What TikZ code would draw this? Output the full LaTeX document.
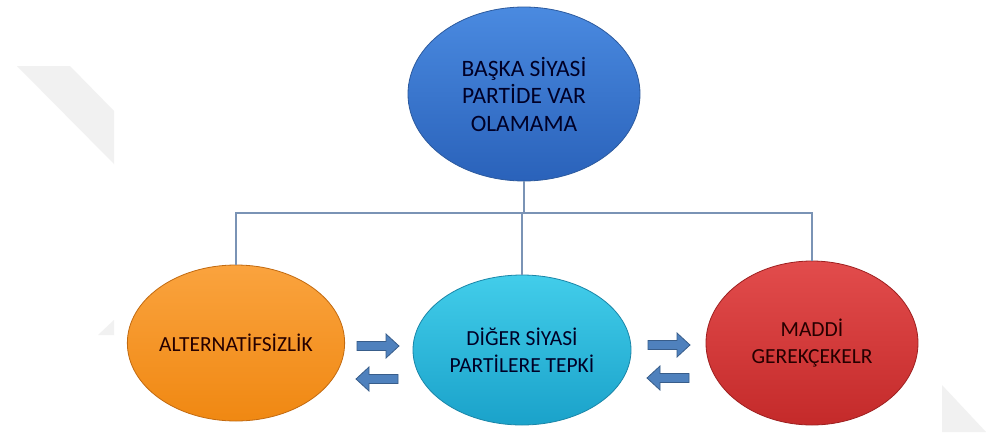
\documentclass[tikz,border=0pt]{standalone}
\usepackage{fontspec}
\setmainfont{Carlito}
\usetikzlibrary{shapes.geometric}

\definecolor{bluetop}{HTML}{4A8AE0}
\definecolor{bluebot}{HTML}{2A62BA}
\definecolor{blueedge}{HTML}{2C5A9E}
\definecolor{orgtop}{HTML}{FAA33E}
\definecolor{orgbot}{HTML}{F08812}
\definecolor{orgedge}{HTML}{C26A10}
\definecolor{cyantop}{HTML}{42CDEA}
\definecolor{cyanbot}{HTML}{1AA2CA}
\definecolor{cyanedge}{HTML}{1A86A8}
\definecolor{redtop}{HTML}{E24C4C}
\definecolor{redbot}{HTML}{C42A2A}
\definecolor{rededge}{HTML}{9E2020}
\definecolor{linkcol}{HTML}{7A93B5}
\definecolor{arrfill}{HTML}{4F81BD}
\definecolor{arredge}{HTML}{385D8A}
\definecolor{wmark}{HTML}{F1F1F1}

\tikzset{
  bubble/.style={ellipse, inner sep=0pt, line width=0.8pt, align=center,
    font=\fontsize{21.5}{27}\selectfont},
  link/.style={draw=linkcol, line width=1.2pt},
  blockarrow/.style={fill=arrfill, draw=arredge, line width=0.8pt, line join=miter}
}

\newcommand{\blockarr}[3]{%
  \draw[blockarrow, shift={(#1,#2)}, xscale=#3]
    (-21,-4.5) -- (8,-4.5) -- (8,-12) -- (21,0) -- (8,12) -- (8,4.5) -- (-21,4.5) -- cycle;}

\begin{document}
\begin{tikzpicture}[x=1pt,y=-1pt]
\useasboundingbox (0,0) rectangle (986,440);
\fill[white] (0,0) rectangle (986,440);
% faint marks in the background
\fill[wmark] (17,66) -- (70,66) -- (114,111) -- (114,164) -- cycle;
\fill[wmark] (98,335) -- (114,320) -- (114,335) -- cycle;
\fill[wmark] (942,385) -- (986,432) -- (942,432) -- cycle;

\node[bubble, minimum width=232pt, minimum height=174pt, draw=blueedge,
  top color=bluetop, bottom color=bluebot, text=black!85!blue,
  font=\fontsize{23.5}{27.5}\selectfont] (top) at (524,94)
  {BAŞKA SİYASİ\\PARTİDE VAR\\OLAMAMA};

\node[bubble, minimum width=216pt, minimum height=156pt, draw=orgedge,
  top color=orgtop, bottom color=orgbot, text=black!85!red] (alt) at (236,343)
  {ALTERNATİFSİZLİK};
\node[bubble, minimum width=218pt, minimum height=150pt, draw=cyanedge,
  top color=cyantop, bottom color=cyanbot, text=black!85!blue] (dig) at (522,350)
  {DİĞER SİYASİ\\PARTİLERE TEPKİ};
\node[bubble, minimum width=212pt, minimum height=164pt, draw=rededge,
  top color=redtop, bottom color=redbot, text=black!85!red] (mad) at (812,343)
  {MADDİ\\GEREKÇEKELR};

% tree lines
\coordinate (bus) at (522,213);
\draw[link] (top.south) -- (top.south |- bus);
\draw[link] (alt.north) -- (alt.north |- bus) -- (mad.north |- bus) -- (mad.north);
\draw[link] (dig.north) -- (dig.north |- bus);

% block arrows
\blockarr{378}{346}{1}
\blockarr{377}{379}{-1}
\blockarr{669}{345}{1}
\blockarr{668}{378}{-1}
\end{tikzpicture}
\end{document}
